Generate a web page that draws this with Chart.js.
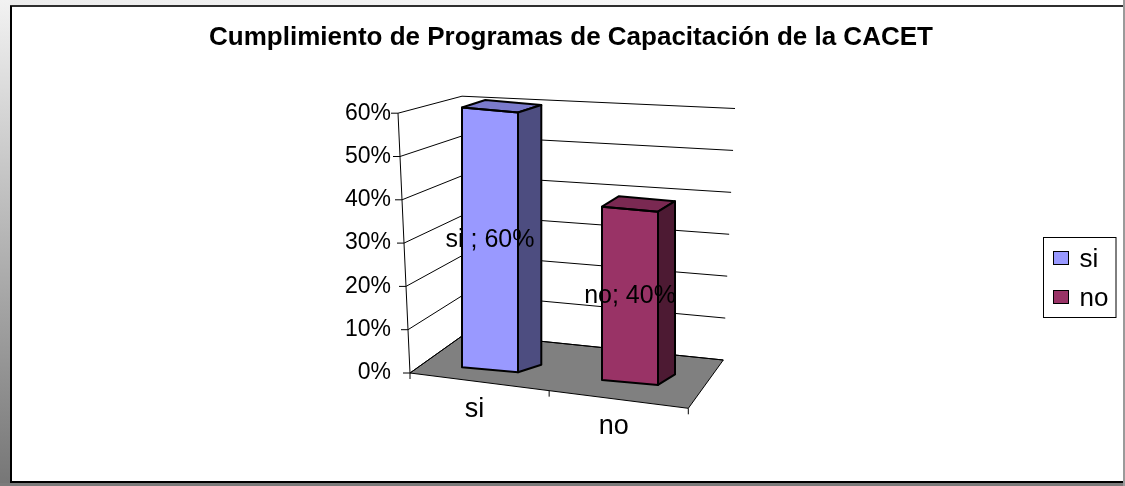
<!DOCTYPE html>
<html>
<head>
<meta charset="utf-8">
<title>Cumplimiento de Programas de Capacitación de la CACET</title>
<script src="https://cdn.jsdelivr.net/npm/chart.js@4.4.0/dist/chart.umd.min.js"></script>
<style>
  html, body { margin: 0; padding: 0; background: #fff; }
  canvas { display: block; }
</style>
</head>
<body>
<canvas id="grafico" width="1125" height="486"></canvas>
<script>
const categorias = ['si', 'no']
const valores = [60, 40]
const colores = ['#9999FF', '#993366']
const coloresTecho = ['#7a7acc', '#7a2952']
const coloresLado = ['#4d4d80', '#4d1a33']
const separadores = [' ; ', '; ']
const yMin = 0
const yMax = 60
const yPaso = 10

const FUENTE = "'Liberation Sans', Arial, sans-serif"
const anchoEjeY = 403

// 3D view of the plot, in px
const vista = {
  anchoPlano: 280,      // width of the plane the bars stand on
  corte: 0.09,          // vertical shear of that plane
  centroCorte: 105.5,
  ejeIzq: 10,           // front value axis sits left of the plane
  ejeInclin: 12,        // and leans left at the top
  fondoAbajo: [55.5, -39.5], fondoArriba: [64, -17],    // side wall depth
  paredAbajo: [257.8, 26.5], paredArriba: [273, 12.3],  // back wall width
  frente: [278.3, 35.3],                                // floor front edge
  prof: [26.45, -6], profPend: [-12.6, -6],             // bar depth along x
  etiqueta: [-5, 27.5]                                  // category label offset
}

function suma(p, v){ return [p[0] + v[0], p[1] + v[1]] }
function mezcla(p, q, t){ return [p[0] + (q[0] - p[0]) * t, p[1] + (q[1] - p[1]) * t] }

function matriz(chart){
  const a = chart.chartArea
  const kx = vista.anchoPlano / (a.right - a.left)
  return { kx: kx, ex: a.left - kx * a.left, x0: a.left + vista.centroCorte, s: vista.corte }
}
function aPantalla(m, x, y){
  const xp = m.kx * x + m.ex
  return [xp, y + m.s * (xp - m.x0)]
}
// points of one value level on the front axis, side wall and back wall
function nivel(chart, yPix){
  const a = chart.chartArea
  const t = (a.bottom - yPix) / (a.bottom - a.top)
  const f = [a.left - vista.ejeIzq - vista.ejeInclin * t, yPix]
  const b = suma(f, mezcla(vista.fondoAbajo, vista.fondoArriba, t))
  const r = suma(b, mezcla(vista.paredAbajo, vista.paredArriba, t))
  return { f: f, b: b, r: r }
}
function poligono(ctx, pts, relleno, borde, ancho){
  ctx.beginPath()
  ctx.moveTo(pts[0][0], pts[0][1])
  for (let i = 1; i < pts.length; i++) ctx.lineTo(pts[i][0], pts[i][1])
  ctx.closePath()
  if (relleno){ ctx.fillStyle = relleno; ctx.fill() }
  if (borde){ ctx.strokeStyle = borde; ctx.lineWidth = ancho; ctx.stroke() }
}

function dibujarMarco(chart){
  const ctx = chart.ctx, W = chart.width, H = chart.height
  ctx.save()
  ctx.fillStyle = '#fff'
  ctx.fillRect(0, 0, W, H)
  const gTop = ctx.createLinearGradient(0, 0, W, 0)
  gTop.addColorStop(0, '#ececec'); gTop.addColorStop(1, '#ffffff')
  ctx.fillStyle = gTop
  ctx.fillRect(0, 0, W, 6)
  const gIzq = ctx.createLinearGradient(0, 0, 0, H)
  gIzq.addColorStop(0, '#f2f2f2'); gIzq.addColorStop(1, '#767676')
  ctx.fillStyle = gIzq
  ctx.fillRect(0, 0, 10, H)
  ctx.fillStyle = '#7b7b7b'
  ctx.fillRect(0, H - 3, W, 3)
  ctx.fillStyle = '#9a9a9a'
  ctx.fillRect(W - 2, 0, 2, H)
  ctx.lineWidth = 2
  ctx.strokeStyle = '#2e2e2e'
  ctx.beginPath(); ctx.moveTo(10, 6); ctx.lineTo(W - 2, 6); ctx.stroke()
  ctx.strokeStyle = '#000'
  ctx.beginPath(); ctx.moveTo(11, 6); ctx.lineTo(11, H - 4); ctx.stroke()
  ctx.beginPath(); ctx.moveTo(10, H - 4); ctx.lineTo(W - 2, H - 4); ctx.stroke()
  ctx.restore()
}

const escena3d = {
  id: 'escena3d',
  beforeDraw(chart){
    dibujarMarco(chart)
  },
  beforeDatasetsDraw(chart){
    const ctx = chart.ctx, ys = chart.scales.y, xs = chart.scales.x, a = chart.chartArea
    const niveles = ys.ticks.map(t => nivel(chart, ys.getPixelForValue(t.value)))
    const base = nivel(chart, ys.getPixelForValue(yMin))
    const frenteDer = suma(base.f, vista.frente)
    ctx.save()
    // floor
    poligono(ctx, [base.f, base.b, base.r, frenteDer], '#808080', '#000', 1)
    // gridlines on side and back walls
    ctx.strokeStyle = '#000'
    ctx.lineWidth = 1
    ctx.beginPath()
    for (const n of niveles){
      ctx.moveTo(n.f[0], n.f[1]); ctx.lineTo(n.b[0], n.b[1]); ctx.lineTo(n.r[0], n.r[1])
    }
    // front value axis with its ticks
    const tope = niveles[niveles.length - 1]
    ctx.moveTo(tope.f[0], tope.f[1]); ctx.lineTo(base.f[0], base.f[1])
    for (const n of niveles){
      ctx.moveTo(n.f[0] - 7, n.f[1]); ctx.lineTo(n.f[0], n.f[1])
    }
    // category axis ticks at the band edges
    for (let i = 0; i <= categorias.length; i++){
      const u = (xs.getPixelForValue(i - 0.5) - a.left) / (a.right - a.left)
      const p = suma(base.f, [vista.frente[0] * u, vista.frente[1] * u])
      ctx.moveTo(p[0], p[1]); ctx.lineTo(p[0], p[1] + 6)
    }
    ctx.stroke()
    // category labels
    ctx.fillStyle = '#000'
    ctx.font = '27px ' + FUENTE
    ctx.textAlign = 'center'
    ctx.textBaseline = 'middle'
    categorias.forEach((c, i) => {
      const u = (xs.getPixelForValue(i) - a.left) / (a.right - a.left)
      const p = suma(suma(base.f, [vista.frente[0] * u, vista.frente[1] * u]), vista.etiqueta)
      ctx.fillText(xs.getLabelForValue(i), p[0], p[1])
    })
    ctx.restore()
    // bars' front faces are drawn by Chart.js in the sheared plane
    const m = matriz(chart)
    ctx.save()
    ctx.transform(m.kx, m.s * m.kx, 0, 1, m.ex, m.s * (m.ex - m.x0))
  },
  afterDatasetsDraw(chart){
    const ctx = chart.ctx, a = chart.chartArea
    ctx.restore()
    const m = matriz(chart)
    const meta = chart.getDatasetMeta(0)
    ctx.save()
    ctx.lineJoin = 'round'
    meta.data.forEach((barra, i) => {
      const p = barra.getProps(['x', 'y', 'base', 'width'], true)
      const TL = aPantalla(m, p.x - p.width / 2, p.y)
      const TR = aPantalla(m, p.x + p.width / 2, p.y)
      const BL = aPantalla(m, p.x - p.width / 2, p.base)
      const BR = aPantalla(m, p.x + p.width / 2, p.base)
      const u = ((TL[0] + TR[0]) / 2 - a.left) / vista.anchoPlano
      const d = [vista.prof[0] + vista.profPend[0] * u, vista.prof[1] + vista.profPend[1] * u]
      poligono(ctx, [TL, TR, suma(TR, d), suma(TL, d)], coloresTecho[i], '#000', 2)
      poligono(ctx, [TR, BR, suma(BR, d), suma(TR, d)], coloresLado[i], '#000', 2)
      poligono(ctx, [TL, TR, BR, BL], null, '#000', 2)
    })
    // data labels
    ctx.fillStyle = '#000'
    ctx.font = '25px ' + FUENTE
    ctx.textAlign = 'center'
    ctx.textBaseline = 'middle'
    meta.data.forEach((barra, i) => {
      const p = barra.getProps(['x', 'y', 'base'], true)
      const c = aPantalla(m, p.x, (p.y + p.base) / 2)
      ctx.fillText(categorias[i] + separadores[i] + valores[i] + '%', c[0], c[1])
    })
    ctx.restore()
  },
  afterDraw(chart){
    // legend with a box around it
    const ctx = chart.ctx
    ctx.save()
    ctx.font = '26px ' + FUENTE
    const anchoTexto = Math.max(...categorias.map(c => ctx.measureText(c).width))
    const ancho = 10 + 15 + 11 + anchoTexto + 8
    const der = chart.width - 9
    const izq = Math.round(der - ancho) + 0.5
    const paso = 39
    const alto = 21 + paso * (categorias.length - 1) + 20
    const arriba = Math.round(277 - alto / 2) + 0.5
    ctx.strokeStyle = '#000'
    ctx.lineWidth = 1
    ctx.strokeRect(izq, arriba, der - izq, alto)
    ctx.textAlign = 'left'
    ctx.textBaseline = 'middle'
    categorias.forEach((c, i) => {
      const cy = arriba + 21 + paso * i
      ctx.fillStyle = colores[i]
      ctx.fillRect(izq + 10, cy - 7, 15, 13)
      ctx.strokeRect(izq + 10, cy - 7, 15, 13)
      ctx.fillStyle = '#000'
      ctx.fillText(c, izq + 36, cy + 1)
    })
    ctx.restore()
  }
}

const grafico = new Chart(document.getElementById('grafico'), {
  type: 'bar',
  data: {
    labels: categorias,
    datasets: [{
      label: 'Cumplimiento',
      data: valores,
      backgroundColor: colores,
      borderWidth: 0,
      barPercentage: 0.4,
      categoryPercentage: 1,
      clip: false
    }]
  },
  options: {
    responsive: false,
    animation: false,
    events: [],
    layout: { padding: { left: 17, right: 0, top: 0, bottom: 113 } },
    plugins: {
      legend: { display: false },
      tooltip: { enabled: false },
      title: {
        display: true,
        text: 'Cumplimiento de Programas de Capacitación de la CACET',
        color: '#000',
        font: { family: FUENTE, size: 26, weight: 'bold' },
        padding: { top: 22, bottom: 60 }
      }
    },
    scales: {
      x: { display: false },
      y: {
        min: yMin,
        max: yMax,
        ticks: {
          stepSize: yPaso,
          padding: 29,
          color: '#000',
          font: { family: FUENTE, size: 23 },
          callback: v => v + '%'
        },
        grid: { display: false, drawTicks: false },
        border: { display: false },
        afterFit: s => { s.width = anchoEjeY }
      }
    }
  },
  plugins: [escena3d]
})
</script>
</body>
</html>
